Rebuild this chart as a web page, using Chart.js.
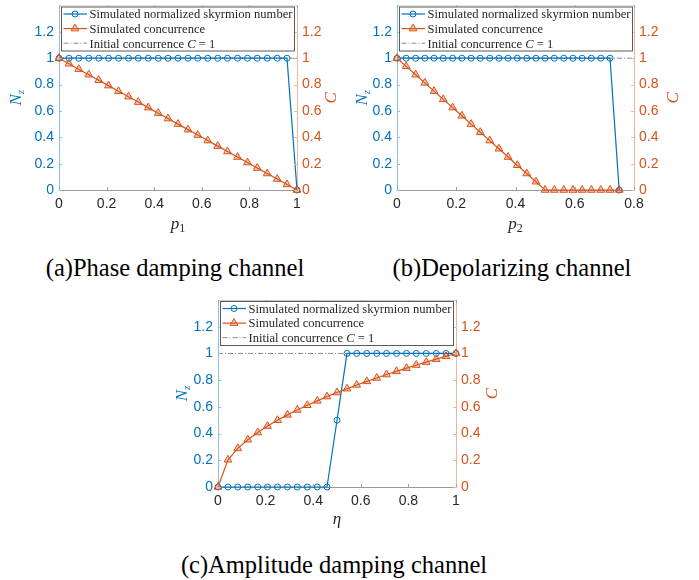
<!DOCTYPE html>
<html>
<head>
<meta charset="utf-8">
<script src="https://cdn.jsdelivr.net/npm/chart.js@4/dist/chart.umd.min.js"></script>
<style>
  body { margin: 0; background: #fff; width: 699px; height: 580px; position: relative; overflow: hidden; }
  canvas { position: absolute; }
  .cap { position: absolute; font-family: "Liberation Serif", serif; font-size: 24.5px; line-height: 24px; color: #000; white-space: nowrap; transform: translateX(-50%); }
</style>
</head>
<body>
<canvas id="chartA" width="350" height="240" style="left:0;top:0"></canvas>
<canvas id="chartB" width="349" height="240" style="left:350px;top:0"></canvas>
<canvas id="chartC" width="400" height="240" style="left:150px;top:290px"></canvas>
<div class="cap" style="left:175px;top:256px">(a)Phase damping channel</div>
<div class="cap" style="left:512px;top:256px">(b)Depolarizing channel</div>
<div class="cap" style="left:334px;top:553px">(c)Amplitude damping channel</div>
<script>
// (a) phase damping: p1
const pA = [0, 0.042, 0.083, 0.125, 0.167, 0.208, 0.25, 0.292, 0.333, 0.375, 0.417, 0.458, 0.5,
  0.542, 0.583, 0.625, 0.667, 0.708, 0.75, 0.792, 0.833, 0.875, 0.917, 0.958, 1]
const nzA = [1, 1, 1, 1, 1, 1, 1, 1, 1, 1, 1, 1, 1, 1, 1, 1, 1, 1, 1, 1, 1, 1, 1, 1, 0]
const cA = [1, 0.958, 0.917, 0.875, 0.833, 0.792, 0.75, 0.708, 0.667, 0.625, 0.583, 0.542, 0.5,
  0.458, 0.417, 0.375, 0.333, 0.292, 0.25, 0.208, 0.167, 0.125, 0.083, 0.042, 0]

// (b) depolarizing: p2
const pB = [0, 0.031, 0.063, 0.094, 0.125, 0.156, 0.188, 0.219, 0.25, 0.281, 0.313, 0.344, 0.375,
  0.406, 0.438, 0.469, 0.5, 0.531, 0.563, 0.594, 0.625, 0.656, 0.688, 0.719, 0.75]
const nzB = [1, 1, 1, 1, 1, 1, 1, 1, 1, 1, 1, 1, 1, 1, 1, 1, 1, 1, 1, 1, 1, 1, 1, 1, 0]
const cB = [1, 0.938, 0.875, 0.813, 0.75, 0.688, 0.625, 0.563, 0.5, 0.438, 0.375, 0.313, 0.25,
  0.188, 0.125, 0.063, 0, 0, 0, 0, 0, 0, 0, 0, 0]

// (c) amplitude damping: eta
const etaC = [0, 0.042, 0.083, 0.125, 0.167, 0.208, 0.25, 0.292, 0.333, 0.375, 0.417, 0.458, 0.5,
  0.542, 0.583, 0.625, 0.667, 0.708, 0.75, 0.792, 0.833, 0.875, 0.917, 0.958, 1]
const nzC = [0, 0, 0, 0, 0, 0, 0, 0, 0, 0, 0, 0, 0.5, 1, 1, 1, 1, 1, 1, 1, 1, 1, 1, 1, 1]
const cC = [0, 0.204, 0.289, 0.354, 0.408, 0.456, 0.5, 0.54, 0.577, 0.612, 0.645, 0.677, 0.707,
  0.736, 0.764, 0.791, 0.816, 0.842, 0.866, 0.89, 0.913, 0.935, 0.957, 0.979, 1]

const yTicks = [0, 0.2, 0.4, 0.6, 0.8, 1, 1.2]
const seriesNames = ["Simulated normalized skyrmion number", "Simulated concurrence", "Initial concurrence "]

const blue = "#0072BD"
const orange = "#D95319"
const serif = '"Liberation Serif", serif'
const sans = '"Liberation Sans", Arial, sans-serif'

const fmt = (v) => String(Math.round(v * 10) / 10)

// text made of several runs (font changes, subscripts)
function runsWidth(ctx, runs) {
  let w = 0
  runs.forEach((r) => { ctx.font = r.font; w += ctx.measureText(r.t).width })
  return w
}
function drawRuns(ctx, runs, x, y, color) {
  ctx.fillStyle = color
  ctx.textBaseline = "alphabetic"
  ctx.textAlign = "left"
  let cx = x
  runs.forEach((r) => {
    ctx.font = r.font
    ctx.fillText(r.t, cx, y + (r.dy || 0))
    cx += ctx.measureText(r.t).width
  })
}

function drawTri(ctx, x, y, r) {
  ctx.beginPath()
  ctx.moveTo(x, y - r)
  ctx.lineTo(x + r * 0.866, y + r * 0.5)
  ctx.lineTo(x - r * 0.866, y + r * 0.5)
  ctx.closePath()
  ctx.fill()
  ctx.stroke()
}

const decor = {
  id: "decor",
  afterDraw(chart, args, o) {
    const { ctx, chartArea: ca } = chart
    ctx.save()
    // top box line and inner tick marks
    ctx.lineWidth = 1
    ctx.strokeStyle = "#c8c8c8"
    ctx.beginPath(); ctx.moveTo(ca.left, ca.top + 0.5); ctx.lineTo(ca.right, ca.top + 0.5); ctx.stroke()
    const xs = chart.scales.x
    ctx.strokeStyle = "#a0a0a0"
    xs.ticks.forEach((t) => {
      const px = Math.round(xs.getPixelForValue(t.value)) + 0.5
      ctx.beginPath(); ctx.moveTo(px, ca.bottom); ctx.lineTo(px, ca.bottom - 3)
      ctx.moveTo(px, ca.top); ctx.lineTo(px, ca.top + 3); ctx.stroke()
    })
    const yl = chart.scales.yL
    yl.ticks.forEach((t) => {
      const py = Math.round(yl.getPixelForValue(t.value)) + 0.5
      ctx.strokeStyle = "#8cc0e4"
      ctx.beginPath(); ctx.moveTo(ca.left, py); ctx.lineTo(ca.left + 3, py); ctx.stroke()
      ctx.strokeStyle = "#f0b49a"
      ctx.beginPath(); ctx.moveTo(ca.right, py); ctx.lineTo(ca.right - 3, py); ctx.stroke()
    })

    // legend box
    const lx = ca.left + 2, ly = ca.top + 1, lw = 234, lh = 45
    ctx.fillStyle = "#fff"
    ctx.fillRect(lx, ly, lw, lh)
    ctx.strokeStyle = "#5a5a5a"
    ctx.lineWidth = 1
    ctx.strokeRect(lx + 0.5, ly + 0.5, lw - 1, lh - 1)
    const ds = chart.data.datasets
    ctx.font = "13px " + serif
    const fs = 13 * 203 / ctx.measureText(seriesNames[0]).width
    const rows = [
      [{ t: seriesNames[0], font: fs + "px " + serif }],
      [{ t: seriesNames[1], font: fs + "px " + serif }],
      [{ t: seriesNames[2], font: fs + "px " + serif }, { t: "C", font: "italic " + fs + "px " + serif },
        { t: " = 1", font: fs + "px " + serif }]
    ]
    rows.forEach((row, i) => {
      const ry = ly + 7.5 + i * 14.6
      const d = ds[i]
      ctx.strokeStyle = d.borderColor
      ctx.lineWidth = d.borderWidth
      ctx.setLineDash(d.borderDash || [])
      ctx.beginPath(); ctx.moveTo(lx + 2.5, ry); ctx.lineTo(lx + 26, ry); ctx.stroke()
      ctx.setLineDash([])
      ctx.lineWidth = 1
      if (i === 0) {
        ctx.beginPath(); ctx.arc(lx + 14, ry, 3, 0, Math.PI * 2); ctx.stroke()
      } else if (i === 1) {
        ctx.fillStyle = d.pointBackgroundColor
        drawTri(ctx, lx + 14, ry, 4.5)
      }
      drawRuns(ctx, row, lx + 28.5, ry + 4.3, "#262626")
    })

    // axis titles
    const midY = (ca.top + ca.bottom) / 2
    const lab = [
      { t: "N", font: "italic 17px " + serif },
      { t: "z", font: "italic 11px " + serif, dy: 3 }
    ]
    ctx.save()
    ctx.translate(ca.left - o.nzOff + 5, midY)
    ctx.rotate(-Math.PI / 2)
    drawRuns(ctx, lab, -runsWidth(ctx, lab) / 2, 0, blue)
    ctx.restore()

    const cl = [{ t: "C", font: "italic 17px " + serif }]
    ctx.save()
    ctx.translate(ca.right + o.cOff + 6, midY)
    ctx.rotate(-Math.PI / 2)
    drawRuns(ctx, cl, -runsWidth(ctx, cl) / 2, 0, orange)
    ctx.restore()

    const xl = o.xLabel
    drawRuns(ctx, xl, (ca.left + ca.right) / 2 - runsWidth(ctx, xl) / 2, ca.bottom + o.xOff + 4, "#262626")
    ctx.restore()
  }
}

function yScale(pos, color, border, width) {
  return {
    type: "linear",
    position: pos,
    min: 0,
    max: 1.4,
    afterBuildTicks: (s) => { s.ticks = yTicks.map((v) => ({ value: v })) },
    ticks: { color: color, font: { family: sans, size: 14 }, padding: 5, callback: fmt },
    grid: { display: false, drawTicks: false },
    border: { color: border },
    afterFit: (s) => { s.width = width; s.paddingTop = 0; s.paddingBottom = 0 }
  }
}

function makeChart(id, xs, nz, conc, xMax, o) {
  return new Chart(document.getElementById(id), {
    type: "line",
    data: {
      datasets: [
        {
          label: seriesNames[0],
          data: xs.map((x, i) => ({ x: x, y: nz[i] })),
          yAxisID: "yL",
          borderColor: blue,
          borderWidth: 1.2,
          pointStyle: "circle",
          pointRadius: 3,
          pointBorderWidth: 1,
          pointBorderColor: blue,
          pointBackgroundColor: "rgba(0,0,0,0)",
          clip: false,
          order: 2
        },
        {
          label: seriesNames[1],
          data: xs.map((x, i) => ({ x: x, y: conc[i] })),
          yAxisID: "yR",
          borderColor: orange,
          borderWidth: 1.2,
          pointStyle: "triangle",
          pointRadius: 4.5,
          pointBorderWidth: 1,
          pointBorderColor: orange,
          pointBackgroundColor: "rgba(217,83,25,0.3)",
          clip: false,
          order: 1
        },
        {
          label: seriesNames[2] + "C = 1",
          data: [{ x: 0, y: 1 }, { x: xMax, y: 1 }],
          yAxisID: "yR",
          borderColor: "#8a8a8a",
          borderWidth: 1,
          borderDash: [5, 2, 1, 2],
          pointRadius: 0,
          clip: false,
          order: 3
        }
      ]
    },
    options: {
      responsive: false,
      animation: false,
      layout: { padding: { top: o.top, left: 0, right: 0, bottom: 0 } },
      plugins: { legend: { display: false }, tooltip: { enabled: false }, decor: o },
      scales: {
        x: {
          type: "linear",
          min: 0,
          max: xMax,
          ticks: { stepSize: 0.2, color: "#262626", font: { family: sans, size: 14 }, padding: 6, maxRotation: 0, callback: fmt },
          grid: { display: false, drawTicks: false },
          border: { color: "#9a9a9a" },
          afterFit: (s) => { s.height = o.xh; s.paddingLeft = 0; s.paddingRight = 0 }
        },
        yL: yScale("left", blue, "#8cc0e4", o.lw),
        yR: yScale("right", orange, "#f0b49a", o.rw)
      }
    },
    plugins: [decor]
  })
}

const subP = (n) => [
  { t: "p", font: "italic 17px " + serif },
  { t: n, font: "12px " + serif, dy: 3 }
]

makeChart("chartA", pA, nzA, cA, 1, { top: 3, lw: 59, rw: 53, xh: 50, nzOff: 43, cOff: 33, xOff: 35, xLabel: subP("1") })
makeChart("chartB", pB, nzB, cB, 0.8, { top: 3, lw: 47, rw: 65, xh: 50, nzOff: 35, cOff: 38, xOff: 35, xLabel: subP("2") })
makeChart("chartC", etaC, nzC, cC, 1, { top: 10, lw: 68, rw: 94, xh: 43, nzOff: 36, cOff: 35, xOff: 33,
  xLabel: [{ t: "η", font: "italic 17px " + serif }] })
</script>
</body>
</html>
